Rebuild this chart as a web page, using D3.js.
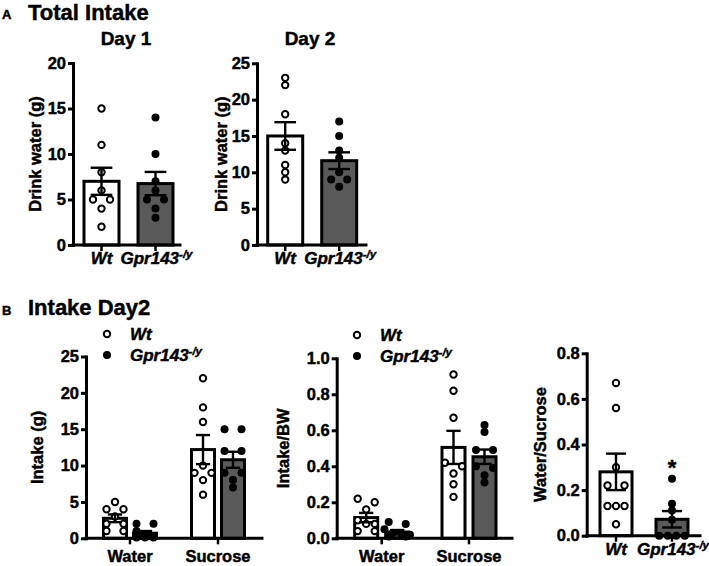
<!DOCTYPE html>
<html><head><meta charset="utf-8">
<script src="https://cdn.jsdelivr.net/npm/d3@7"></script>
<style>body{margin:0;background:#fff} svg{display:block}</style>
</head><body>
<svg id="c" width="709" height="566"></svg>
<script>
// ---------- data ----------
const genotypes = ["Wt", "Gpr143"];
const day1Wt = [15, 11, 8, 6, 5, 5, 4, 2];
const day1Ko = [14, 10, 7, 6, 5, 5, 4, 3];
const day1Mean = [7.0, 6.75];
const day1Sem = [1.49, 1.28];
const day2Wt = [23, 22, 18, 14, 13, 11, 10, 9];
const day2Ko = [17, 15, 13, 12, 10, 9, 9, 8];
const day2Mean = [15.0, 11.6];
const day2Sem = [1.9, 1.15];

const fluids = ["Water", "Sucrose"];
const intakeWaterWt = [5, 4, 4, 3, 2, 2, 1, 1];
const intakeWaterKo = [2, 2, 1, 0.5, 0.2, 0.1, 0.1, 0.1];
const intakeSucroseWt = [22, 18, 16, 10, 9, 9, 8, 6];
const intakeSucroseKo = [15, 15, 12, 12, 9, 9, 8, 7];
const intakeMeanWt = [2.75, 12.2];
const intakeSemWt = [0.53, 2.0];
const intakeMeanKo = [0.7, 10.8];
const intakeSemKo = [0.3, 1.1];

const bwWaterWt = [0.22, 0.20, 0.16, 0.10, 0.08, 0.08, 0.04, 0.04];
const bwWaterKo = [0.09, 0.08, 0.05, 0.03, 0.02, 0.02, 0.01, 0.01];
const bwSucroseWt = [0.91, 0.82, 0.67, 0.42, 0.40, 0.36, 0.30, 0.23];
const bwSucroseKo = [0.63, 0.59, 0.49, 0.49, 0.40, 0.39, 0.35, 0.31];
const bwMeanWt = [0.115, 0.505];
const bwSemWt = [0.026, 0.092];
const bwMeanKo = [0.035, 0.453];
const bwSemKo = [0.011, 0.04];

const ratioWt = [0.67, 0.56, 0.30, 0.22, 0.22, 0.13, 0.13, 0.13, 0.05];
const ratioKo = [0.25, 0.14, 0.11, 0.07, 0, 0, 0, 0];
const ratioMean = [0.28, 0.072];
const ratioSem = [0.08, 0.036];

const ticksDay1 = [0, 5, 10, 15, 20];
const ticksDay2 = [0, 5, 10, 15, 20, 25];
const ticksIntake = [0, 5, 10, 15, 20, 25];
const ticksBW = [0, 0.2, 0.4, 0.6, 0.8, 1.0];
const ticksRatio = [0, 0.2, 0.4, 0.6, 0.8];

// ---------- drawing ----------
const FONT = "'Liberation Sans', Arial, Helvetica, sans-serif";
const KO_FILL = "#595959";
const THICK = 0.45; // extra stroke to mimic the heavy face
const svg = d3.select("#c");

function styleText(t, size) {
  return t.attr("font-family", FONT).attr("font-weight", "bold")
    .attr("font-size", size).attr("fill", "#000")
    .attr("stroke", "#000").attr("stroke-width", THICK);
}
function text(x, y, str, size, opts = {}) {
  const t = styleText(svg.append("text").attr("x", x).attr("y", y), size)
    .attr("text-anchor", opts.anchor || "start");
  if (opts.italic) t.attr("font-style", "italic");
  t.text(str);
  return t;
}
function gprLabel(x, y, size, anchor) {
  const t = styleText(svg.append("text").attr("x", x).attr("y", y), size)
    .attr("font-style", "italic").attr("text-anchor", anchor || "middle");
  t.append("tspan").text("Gpr143");
  t.append("tspan").attr("dy", -6).attr("font-size", 11.5).text("-/y");
  return t;
}

// scatter offsets: rows of near-equal values are spread horizontally
function swarm(values, y, d, thr) {
  const sorted = values.slice().sort((a, b) => b - a);
  const rows = [];
  sorted.forEach(v => {
    const last = rows[rows.length - 1];
    if (last && Math.abs(y(v) - y(last[0])) < thr) last.push(v); else rows.push([v]);
  });
  const out = [];
  rows.forEach(r => {
    const n = r.length;
    r.forEach((v, i) => {
      let dx;
      if (n === 1) dx = 0;
      else if (n === 2) dx = i === 0 ? -d : d;
      else dx = (i - (n - 1) / 2) * d;
      out.push({ v, dx });
    });
  });
  return out;
}

function panel(o) {
  const y = d3.scaleLinear().domain([0, o.yMax]).range([o.bottom, o.top]);
  const x = d3.scalePoint().domain(o.categories).range(o.centers);
  const inner = d3.scalePoint().domain(genotypes).range([-o.innerOff, o.innerOff]);
  const g = svg.append("g");

  o.bars.forEach(b => {
    const cx = x(b.cat) + (o.innerOff ? inner(b.geno) : 0);
    const ko = b.geno !== "Wt";
    g.append("rect")
      .attr("x", cx - o.barW / 2).attr("width", o.barW)
      .attr("y", y(b.mean)).attr("height", y(0) - y(b.mean))
      .attr("fill", ko ? KO_FILL : "#fff")
      .attr("stroke", "#000").attr("stroke-width", 3);
    swarm(b.values, y, o.dotD, 6.5).forEach(p => {
      g.append("circle")
        .attr("cx", cx + p.dx).attr("cy", y(p.v)).attr("r", ko ? 4 : 3.2)
        .attr("fill", ko ? "#000" : "#fff")
        .attr("stroke", ko ? "none" : "#000").attr("stroke-width", 2);
    });
    const cw = o.barW * 0.62;
    const lo = y(Math.max(0, b.mean - b.sem)), hi = y(b.mean + b.sem);
    const eb = g.append("g").attr("stroke", "#000").attr("stroke-width", 2.4);
    eb.append("line").attr("x1", cx).attr("x2", cx).attr("y1", lo).attr("y2", hi);
    eb.append("line").attr("x1", cx - cw / 2).attr("x2", cx + cw / 2).attr("y1", hi).attr("y2", hi);
    eb.append("line").attr("x1", cx - cw / 2).attr("x2", cx + cw / 2).attr("y1", lo).attr("y2", lo);
  });

  // y axis
  const ax = svg.append("g").attr("transform", `translate(${o.left},0)`)
    .call(d3.axisLeft(y).tickValues(o.ticks).tickFormat(o.fmt)
      .tickSize(5).tickPadding(2).tickSizeOuter(0));
  ax.select(".domain").attr("stroke-width", 3).attr("stroke-linecap", "square");
  ax.selectAll(".tick line").attr("stroke-width", 3);
  ax.selectAll(".tick text").each(function () { styleText(d3.select(this), 16.5); });
  // x axis
  svg.append("line").attr("x1", o.left).attr("x2", o.right)
    .attr("y1", y(0)).attr("y2", y(0)).attr("stroke", "#000").attr("stroke-width", 3)
    .attr("stroke-linecap", "square");
  const tickXs = o.xTicks === "bars" ? o.bars.map(b => x(b.cat)) : o.categories.map(c => x(c));
  tickXs.forEach(tx => svg.append("line").attr("x1", tx).attr("x2", tx)
    .attr("y1", y(0)).attr("y2", y(0) + 6).attr("stroke", "#000").attr("stroke-width", 2.5));

  // y label
  const my = (o.top + o.bottom) / 2;
  text(o.yLabelX + 6, my, o.yLabel, 16.5, { anchor: "middle" })
    .attr("transform", `rotate(-90,${o.yLabelX},${my})`)
    .attr("x", o.yLabelX).attr("y", my + 6);

  // x labels
  if (o.xLabels === "geno") {
    text(x(genotypes[0]), o.xLabelY, "Wt", 17, { anchor: "middle", italic: true });
    gprLabel(x(genotypes[1]) + 1, o.xLabelY, 17);
  } else {
    o.categories.forEach(c => text(x(c), o.xLabelY, c, 16.5, { anchor: "middle" }));
  }
  return { x, y };
}

function legend(cx, cy) {
  svg.append("circle").attr("cx", cx).attr("cy", cy).attr("r", 3.2)
    .attr("fill", "#fff").attr("stroke", "#000").attr("stroke-width", 2);
  svg.append("circle").attr("cx", cx).attr("cy", cy + 21).attr("r", 4).attr("fill", "#000");
  text(cx + 23, cy + 6, "Wt", 17, { italic: true });
  gprLabel(cx + 23, cy + 27, 17, "start");
}

// headings
text(2, 19, "A", 13);
text(28, 20, "Total Intake", 22);
text(2, 315, "B", 13);
text(28, 315, "Intake Day2", 22);
text(126, 45, "Day 1", 19, { anchor: "middle" });
text(310, 45, "Day 2", 19, { anchor: "middle" });

// Panel A: Day 1
panel({
  left: 73, right: 180, top: 63, bottom: 245, yMax: 20, ticks: ticksDay1, fmt: d3.format("d"),
  categories: genotypes, centers: [101.5, 155.5], innerOff: 0, barW: 35, dotD: 8.5,
  bars: [
    { cat: "Wt", geno: "Wt", values: day1Wt, mean: day1Mean[0], sem: day1Sem[0] },
    { cat: "Gpr143", geno: "Gpr143", values: day1Ko, mean: day1Mean[1], sem: day1Sem[1] }
  ],
  xTicks: "bars", yLabel: "Drink water (g)", yLabelX: 35, xLabels: "geno", xLabelY: 264
});
// Panel A: Day 2
panel({
  left: 257, right: 366, top: 63.3, bottom: 245, yMax: 25, ticks: ticksDay2, fmt: d3.format("d"),
  categories: genotypes, centers: [285.2, 339.2], innerOff: 0, barW: 35, dotD: 8,
  bars: [
    { cat: "Wt", geno: "Wt", values: day2Wt, mean: day2Mean[0], sem: day2Sem[0] },
    { cat: "Gpr143", geno: "Gpr143", values: day2Ko, mean: day2Mean[1], sem: day2Sem[1] }
  ],
  xTicks: "bars", yLabel: "Drink water (g)", yLabelX: 221, xLabels: "geno", xLabelY: 264
});

// Panel B1: Intake (g)
panel({
  left: 86, right: 262, top: 356.5, bottom: 538.3, yMax: 25, ticks: ticksIntake, fmt: d3.format("d"),
  categories: fluids, centers: [130, 218], innerOff: 15, barW: 23, dotD: 8.5,
  bars: [
    { cat: "Water", geno: "Wt", values: intakeWaterWt, mean: intakeMeanWt[0], sem: intakeSemWt[0] },
    { cat: "Water", geno: "Gpr143", values: intakeWaterKo, mean: intakeMeanKo[0], sem: intakeSemKo[0] },
    { cat: "Sucrose", geno: "Wt", values: intakeSucroseWt, mean: intakeMeanWt[1], sem: intakeSemWt[1] },
    { cat: "Sucrose", geno: "Gpr143", values: intakeSucroseKo, mean: intakeMeanKo[1], sem: intakeSemKo[1] }
  ],
  xTicks: "cats", yLabel: "Intake (g)", yLabelX: 37, xLabels: "cats", xLabelY: 562
});
legend(107, 334);

// Panel B2: Intake/BW
panel({
  left: 336.7, right: 512, top: 358.3, bottom: 538.3, yMax: 1.0, ticks: ticksBW, fmt: d3.format(".1f"),
  categories: fluids, centers: [381.7, 469], innerOff: 15.5, barW: 23, dotD: 8.5,
  bars: [
    { cat: "Water", geno: "Wt", values: bwWaterWt, mean: bwMeanWt[0], sem: bwSemWt[0] },
    { cat: "Water", geno: "Gpr143", values: bwWaterKo, mean: bwMeanKo[0], sem: bwSemKo[0] },
    { cat: "Sucrose", geno: "Wt", values: bwSucroseWt, mean: bwMeanWt[1], sem: bwSemWt[1] },
    { cat: "Sucrose", geno: "Gpr143", values: bwSucroseKo, mean: bwMeanKo[1], sem: bwSemKo[1] }
  ],
  xTicks: "cats", yLabel: "Intake/BW", yLabelX: 283, xLabels: "cats", xLabelY: 562
});
legend(357, 335);

// Panel B3: Water/Sucrose
const p3 = panel({
  left: 586.7, right: 700, top: 353.3, bottom: 535.7, yMax: 0.8, ticks: ticksRatio, fmt: d3.format(".1f"),
  categories: genotypes, centers: [616, 672], innerOff: 0, barW: 32, dotD: 8.5,
  bars: [
    { cat: "Wt", geno: "Wt", values: ratioWt, mean: ratioMean[0], sem: ratioSem[0] },
    { cat: "Gpr143", geno: "Gpr143", values: ratioKo, mean: ratioMean[1], sem: ratioSem[1] }
  ],
  xTicks: "bars", yLabel: "Water/Sucrose", yLabelX: 540, xLabels: "geno", xLabelY: 555
});
// significance star
text(p3.x("Gpr143"), p3.y(ratioMean[1] + ratioSem[1]) - 36, "*", 22, { anchor: "middle" });
</script>
</body></html>
